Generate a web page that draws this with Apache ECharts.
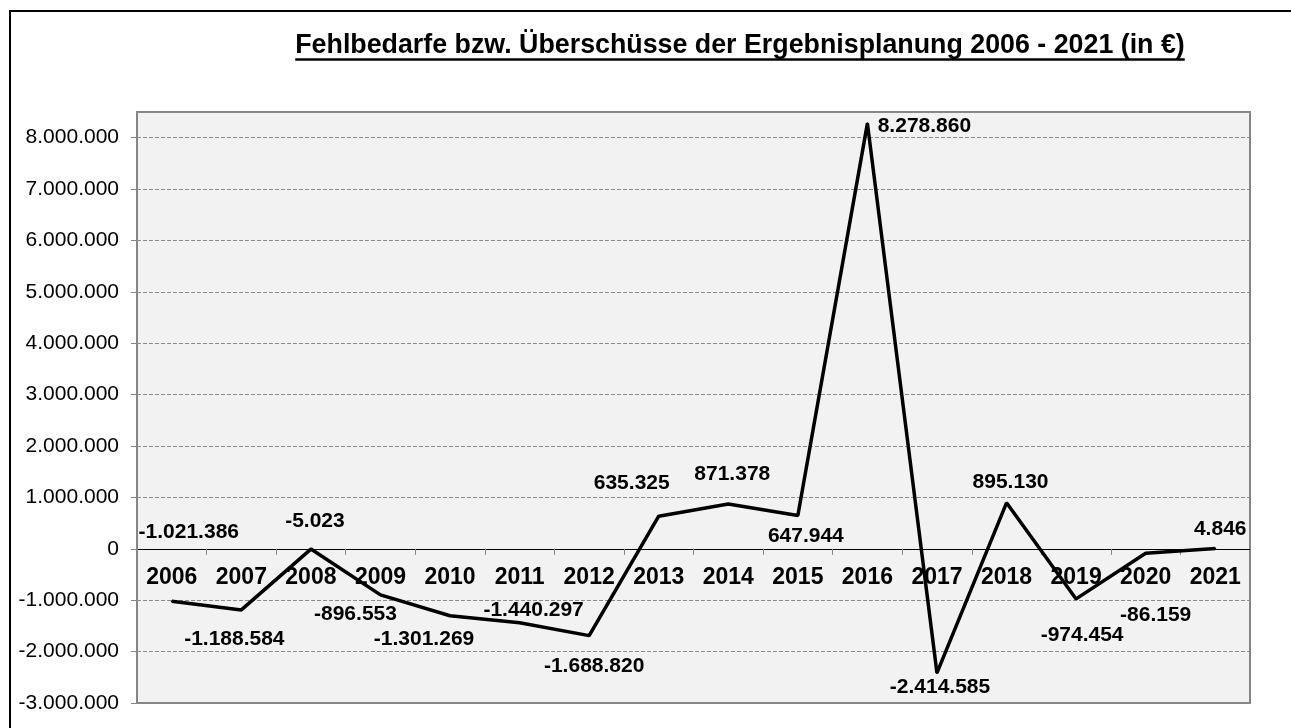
<!DOCTYPE html>
<html>
<head>
<meta charset="utf-8">
<script src="https://cdn.jsdelivr.net/npm/echarts@6/dist/echarts.min.js"></script>
<style>
  html, body { margin: 0; padding: 0; background: #fff; }
  #chart { width: 1291px; height: 728px; }
</style>
</head>
<body>
<div id="chart"></div>
<script>
var years = ['2006', '2007', '2008', '2009', '2010', '2011', '2012', '2013',
    '2014', '2015', '2016', '2017', '2018', '2019', '2020', '2021'];
var ergebnis = [-1021386, -1188584, -5023, -896553, -1301269, -1440297, -1688820, 635325,
    871378, 647944, 8278860, -2414585, 895130, -974454, -86159, 4846];
var yMin = -3000000;
var yMax = 8500000;
var yStep = 1000000;
var titleText = 'Fehlbedarfe bzw. Überschüsse der Ergebnisplanung 2006 - 2021 (in €)';

// label placement as in the original sheet (offset from the point)
var labelOffsets = [[17, -69], [-7, 29], [4, -28], [-25, 19], [-26, 24], [14, -13], [5, 31], [-27, -33],
    [4, -30], [8, 21], [57, 3], [3, 14], [4, -21], [6, 36], [10, 62], [5, -19]];

var font = '"Liberation Sans", Arial, sans-serif';
var gridTop = 112, gridHeight = 591;

function fmt(v) {
    var s = Math.round(Math.abs(v)).toString().replace(/\B(?=(\d{3})+(?!\d))/g, '.');
    return (v < 0 ? '-' : '') + s;
}

// category axis sits on the zero line
var zeroOffset = -gridHeight * (0 - yMin) / (yMax - yMin);

var titleSize = 26.8;
var ctx = document.createElement('canvas').getContext('2d');
ctx.font = 'bold ' + titleSize + 'px ' + font;
var titleW = ctx.measureText(titleText).width;
var titleX = 740;

var dom = document.getElementById('chart');
var myChart = echarts.init(dom, null, { renderer: 'canvas' });

var points = ergebnis.map(function (v, i) {
    return {
        value: v,
        label: { offset: labelOffsets[i] }
    };
});

option = {
    animation: false,
    backgroundColor: '#ffffff',
    textStyle: { fontFamily: font },
    grid: {
        left: 137,
        top: gridTop,
        width: 1113,
        height: gridHeight,
        show: true,
        backgroundColor: '#f2f2f2',
        borderColor: '#858585',
        borderWidth: 2,
        containLabel: false,
        outerBoundsMode: 'none'
    },
    graphic: [
        {
            type: 'rect',
            shape: { x: 10, y: 11, width: 1300, height: 740 },
            style: { fill: null, stroke: '#000', lineWidth: 2 },
            silent: true
        },
        {
            type: 'text',
            x: titleX,
            y: 46,
            style: {
                text: titleText,
                fontSize: titleSize,
                fontWeight: 'bold',
                fontFamily: font,
                fill: '#000',
                align: 'center',
                verticalAlign: 'middle'
            },
            silent: true
        },
        {
            type: 'line',
            shape: { x1: titleX - titleW / 2, y1: 59.5, x2: titleX + titleW / 2, y2: 59.5 },
            style: { stroke: '#000', lineWidth: 2.5 },
            silent: true
        }
    ],
    xAxis: {
        type: 'category',
        data: years,
        boundaryGap: true,
        position: 'bottom',
        offset: zeroOffset,
        axisLine: { onZero: false, lineStyle: { color: '#000', width: 1 } },
        axisTick: { show: true, length: 6, lineStyle: { color: '#858585', width: 1 } },
        axisLabel: {
            margin: 17,
            color: '#000',
            fontSize: 23,
            fontWeight: 'bold',
            fontFamily: font,
            interval: 0
        },
        splitLine: { show: false }
    },
    yAxis: {
        type: 'value',
        min: yMin,
        max: yMax,
        interval: yStep,
        axisLine: { show: false },
        axisTick: { show: true, length: 6, lineStyle: { color: '#858585', width: 1 } },
        axisLabel: {
            margin: 18,
            color: '#000',
            fontSize: 21,
            fontFamily: font,
            showMaxLabel: false,
            formatter: function (v) { return v > 8000000 ? '' : fmt(v); }
        },
        splitLine: {
            show: true,
            lineStyle: { color: '#8a8a8a', width: 1, type: [4, 2] }
        }
    },
    series: [
        {
            type: 'line',
            data: points,
            symbol: 'circle',
            symbolSize: 2,
            showSymbol: true,
            itemStyle: { color: '#000' },
            lineStyle: { color: '#000', width: 3.5 },
            label: {
                show: true,
                position: 'inside',
                color: '#000',
                fontSize: 21,
                fontWeight: 'bold',
                fontFamily: font,
                formatter: function (p) { return fmt(p.value); }
            },
            emphasis: { disabled: true },
            z: 3
        }
    ]
};
if (option && typeof option === "object") {
    myChart.setOption(option, true);
}
</script>
</body>
</html>
